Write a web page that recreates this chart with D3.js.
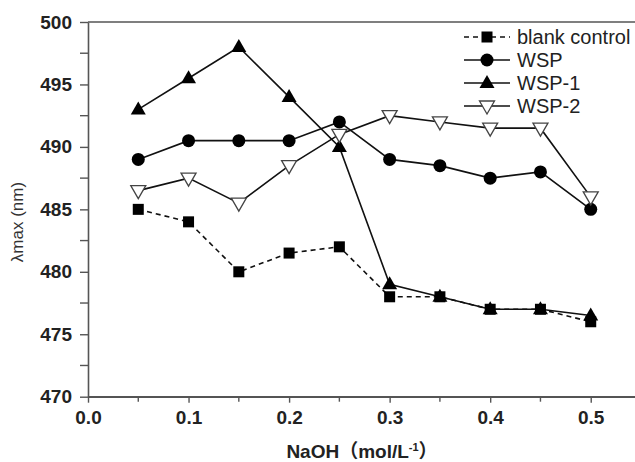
<!DOCTYPE html>
<html>
<head>
<meta charset="utf-8">
<script src="https://cdn.jsdelivr.net/npm/d3@7"></script>
<style>
    body { margin: 0; background: #fff; }
    svg { display: block; }
</style>
</head>
<body>
<div id="chart"></div>
<script>
// ============================================================================
// DATA
// ============================================================================

const naoh = [0.05, 0.10, 0.15, 0.20, 0.25, 0.30, 0.35, 0.40, 0.45, 0.50];

const blankControl = [485, 484, 480, 481.5, 482, 478, 478, 477, 477, 476];
const wsp          = [489, 490.5, 490.5, 490.5, 492, 489, 488.5, 487.5, 488, 485];
const wsp1         = [493, 495.5, 498, 494, 490, 479, 478, 477, 477, 476.5];
const wsp2         = [486.5, 487.5, 485.5, 488.5, 491, 492.5, 492, 491.5, 491.5, 486];

const seriesNames = ["blank control", "WSP", "WSP-1", "WSP-2"];

const xTicks = [0.0, 0.1, 0.2, 0.3, 0.4, 0.5];
const yTicks = [470, 475, 480, 485, 490, 495, 500];


// ============================================================================
// SETUP
// ============================================================================

const W = 635, H = 462;
const margin = { top: 22, left: 88 };
const plotBottom = 396.7;

const svg = d3.select("#chart")
    .append("svg")
    .attr("width", W)
    .attr("height", H);

const x = d3.scaleLinear()
    .domain([0, 0.55])
    .range([margin.left, margin.left + 553]);

const y = d3.scaleLinear()
    .domain([470, 500])
    .range([plotBottom, margin.top]);

const axisColor = "#555";
const font = "'Liberation Sans', Arial, sans-serif";

// frame: top border runs off the right edge
svg.append("line")
    .attr("x1", margin.left).attr("x2", W)
    .attr("y1", y(500)).attr("y2", y(500))
    .attr("stroke", axisColor)
    .attr("stroke-width", 1.6);

// minor ticks
const xMinor = d3.range(0.05, 0.55, 0.1);
const yMinor = d3.range(472.5, 500, 5);

const xAxisG = svg.append("g")
    .attr("transform", `translate(0,${plotBottom})`)
    .call(d3.axisBottom(x).tickValues(xTicks).tickFormat(d3.format(".1f")).tickSize(6).tickPadding(8).tickSizeOuter(0));

xAxisG.selectAll(".minor")
    .data(xMinor)
    .join("line")
    .attr("class", "minor")
    .attr("x1", d => x(d)).attr("x2", d => x(d))
    .attr("y1", 0).attr("y2", 5)
    .attr("stroke", axisColor)
    .attr("stroke-width", 1.4);

const yAxisG = svg.append("g")
    .attr("transform", `translate(${margin.left},0)`)
    .call(d3.axisLeft(y).tickValues(yTicks).tickSize(8).tickPadding(8).tickSizeOuter(0));

yAxisG.selectAll(".minor")
    .data(yMinor)
    .join("line")
    .attr("class", "minor")
    .attr("x1", 0).attr("x2", -8)
    .attr("y1", d => y(d)).attr("y2", d => y(d))
    .attr("stroke", axisColor)
    .attr("stroke-width", 1.4);

[xAxisG, yAxisG].forEach(g => {
    g.attr("font-size", null).attr("font-family", null);
    g.select(".domain").attr("stroke", axisColor).attr("stroke-width", 1.6);
    g.selectAll(".tick line").attr("stroke", axisColor).attr("stroke-width", 1.4);
    g.selectAll(".tick text")
        .style("font-family", font)
        .style("font-weight", "bold")
        .style("font-size", "19px")
        .attr("fill", "#222");
});

// extend x domain line to the right edge
xAxisG.append("line")
    .attr("x1", margin.left).attr("x2", W)
    .attr("y1", 0).attr("y2", 0)
    .attr("stroke", axisColor)
    .attr("stroke-width", 1.6);

// axis titles
svg.append("text")
    .attr("x", 362)
    .attr("y", 458)
    .attr("text-anchor", "middle")
    .style("font-family", "'Liberation Sans', Arial, 'Noto Sans CJK SC', sans-serif")
    .style("font-weight", "bold")
    .style("font-size", "19px")
    .attr("fill", "#222")
    .text("NaOH（mol/L")
    .append("tspan")
    .attr("dy", -7)
    .style("font-size", "11px")
    .text("-1")
    .clone(true)
    .attr("dy", 7)
    .style("font-size", "19px")
    .text("）");

svg.append("text")
    .attr("transform", "rotate(-90)")
    .attr("x", -222)
    .attr("y", 23)
    .attr("text-anchor", "middle")
    .style("font-family", font)
    .style("font-size", "17px")
    .attr("fill", "#333")
    .text("λmax (nm)");


// ============================================================================
// SERIES
// ============================================================================

const series = [
    { name: seriesNames[0], values: blankControl, dash: "5,4", marker: "square" },
    { name: seriesNames[1], values: wsp,          dash: null,  marker: "circle" },
    { name: seriesNames[2], values: wsp1,         dash: null,  marker: "triangle" },
    { name: seriesNames[3], values: wsp2,         dash: null,  marker: "triangleDown" }
];

const line = d3.line()
    .x((d, i) => x(naoh[i]))
    .y(d => y(d));

function drawMarker(g, type, cx, cy) {
    if (type === "square") {
        g.append("rect")
            .attr("x", cx - 5.5).attr("y", cy - 5.5)
            .attr("width", 11).attr("height", 11)
            .attr("fill", "#000");
    } else if (type === "circle") {
        g.append("circle")
            .attr("cx", cx).attr("cy", cy).attr("r", 6.5)
            .attr("fill", "#000");
    } else if (type === "triangle") {
        g.append("path")
            .attr("d", `M${cx},${cy - 8} L${cx + 7.5},${cy + 5} L${cx - 7.5},${cy + 5} Z`)
            .attr("fill", "#000");
    } else {
        g.append("path")
            .attr("d", `M${cx - 7.5},${cy - 5} L${cx + 7.5},${cy - 5} L${cx},${cy + 8} Z`)
            .attr("fill", "#fff")
            .attr("stroke", "#444")
            .attr("stroke-width", 1.3);
    }
}

const plot = svg.append("g");

series.forEach(s => {
    plot.append("path")
        .datum(s.values)
        .attr("d", line)
        .attr("fill", "none")
        .attr("stroke", "#111")
        .attr("stroke-width", 1.6)
        .attr("stroke-dasharray", s.dash);
});

series.forEach(s => {
    const mg = plot.append("g");
    s.values.forEach((v, i) => drawMarker(mg, s.marker, x(naoh[i]), y(v)));
});


// ============================================================================
// LEGEND
// ============================================================================

const legend = svg.append("g");
const legendY = [37, 60, 83, 106];

series.forEach((s, i) => {
    const ly = legendY[i];
    legend.append("line")
        .attr("x1", 464).attr("x2", 510)
        .attr("y1", ly).attr("y2", ly)
        .attr("stroke", "#111")
        .attr("stroke-width", 1.6)
        .attr("stroke-dasharray", s.dash);
    drawMarker(legend, s.marker, 487, ly);
    legend.append("text")
        .attr("x", 517)
        .attr("y", ly)
        .attr("dy", "0.35em")
        .style("font-family", font)
        .style("font-size", "20px")
        .attr("fill", "#222")
        .text(s.name);
});
</script>
</body>
</html>
